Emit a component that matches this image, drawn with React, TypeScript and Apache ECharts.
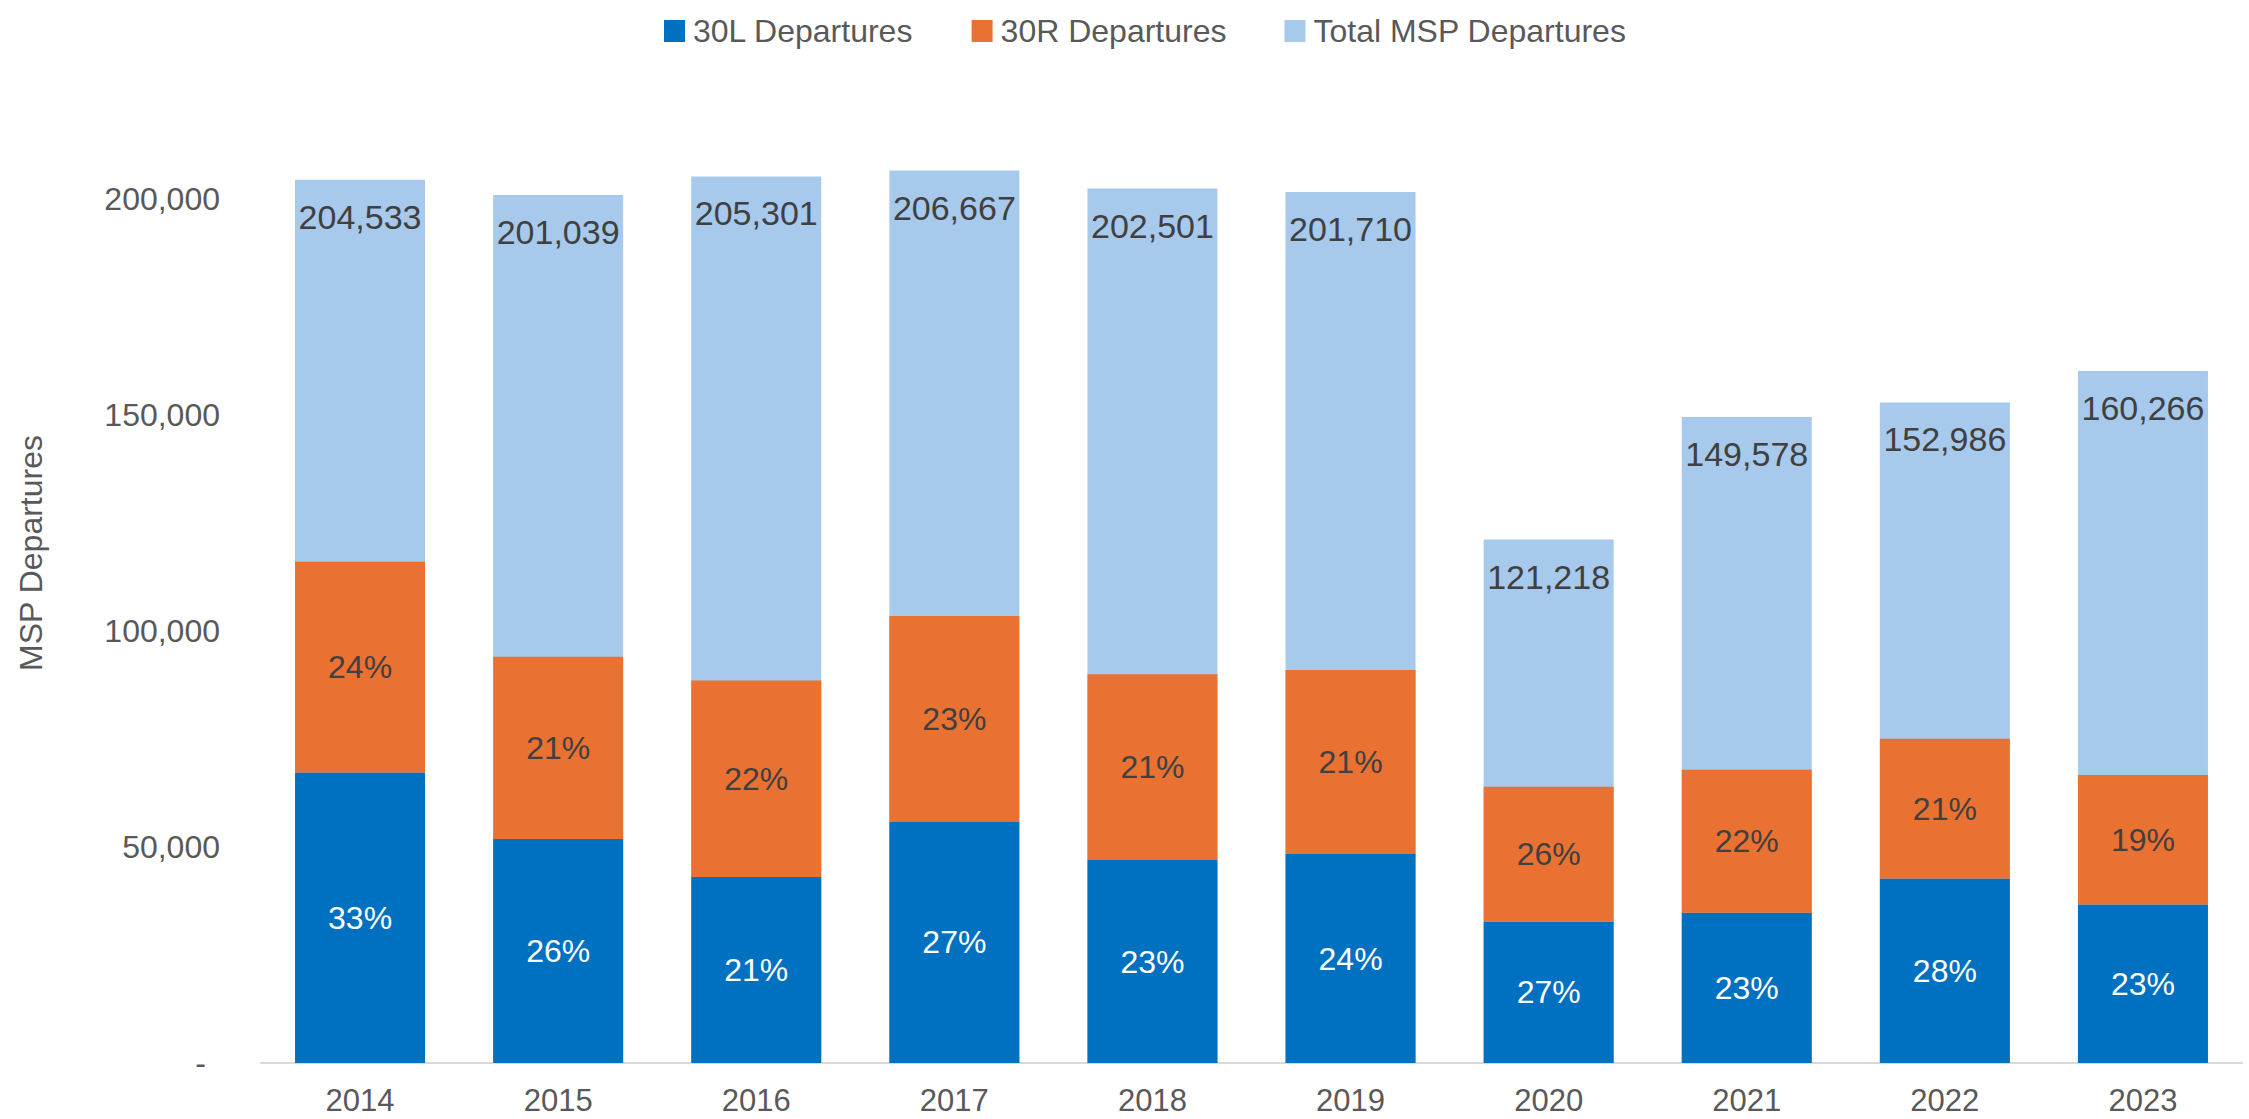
import React, { useEffect, useRef } from "react";
import * as echarts from "echarts";

const years = ["2014", "2015", "2016", "2017", "2018", "2019", "2020", "2021", "2022", "2023"];
const dep30L = [67300, 51900, 43100, 55900, 47000, 48400, 32700, 34800, 42700, 36700];
const dep30R = [48800, 42200, 45500, 47600, 43000, 42600, 31300, 33100, 32400, 30000];
const totalDep = [204533, 201039, 205301, 206667, 202501, 201710, 121218, 149578, 152986, 160266];
const pct30L = ["33%", "26%", "21%", "27%", "23%", "24%", "27%", "23%", "28%", "23%"];
const pct30R = ["24%", "21%", "22%", "23%", "21%", "21%", "26%", "22%", "21%", "19%"];
const yTicks = [0, 50000, 100000, 150000, 200000];

const FONT = "'Liberation Sans', Arial, sans-serif";
const GREY = "#595959";
const DARK = "#404040";

export default function App() {
  const ref = useRef<HTMLDivElement>(null);
  useEffect(() => {
    if (!ref.current) return;
    const chart = echarts.init(ref.current, null, { renderer: "svg" });
    const fmt = (v: number) => v.toLocaleString("en-US");
    chart.setOption({
      animation: false,
      backgroundColor: "#ffffff",
      textStyle: { fontFamily: FONT },
      legend: {
        data: ["30L Departures", "30R Departures", "Total MSP Departures"],
        left: 659,
        top: 10,
        itemWidth: 21,
        itemHeight: 22,
        itemGap: 58,
        icon: "rect",
        textStyle: { fontFamily: FONT, fontSize: 32, color: GREY, padding: [0, 0, 0, 3] },
      },
      graphic: [
        {
          type: "text",
          x: 31,
          y: 553,
          rotation: Math.PI / 2,
          style: {
            text: "MSP Departures",
            fontFamily: FONT,
            fontSize: 32,
            fill: GREY,
            textAlign: "center",
            textVerticalAlign: "middle",
          },
        },
      ],
      grid: { left: 261, right: 7, top: 113, bottom: 56, containLabel: false },
      xAxis: {
        type: "category",
        data: years,
        axisLine: { show: true, lineStyle: { color: "#d9d9d9", width: 2 } },
        axisTick: { show: false },
        axisLabel: { fontFamily: FONT, fontSize: 31, lineHeight: 31, color: GREY, margin: 22 },
      },
      yAxis: {
        type: "value",
        min: 0,
        max: 220000,
        interval: 50000,
        splitLine: { show: false },
        axisLine: { show: false },
        axisTick: { show: false },
        axisLabel: {
          fontFamily: FONT,
          fontSize: 32,
          color: GREY,
          margin: 41,
          formatter: (v: number) => {
            if (!yTicks.includes(v)) return "";
            if (v === 0) return "{dash|-}";
            return fmt(v);
          },
          rich: { dash: { fontFamily: FONT, fontSize: 32, color: GREY, padding: [0, 14, 0, 0] } },
        },
      },
      series: [
        {
          name: "Total MSP Departures",
          type: "bar",
          data: totalDep,
          barWidth: 130,
          barGap: "-100%",
          itemStyle: { color: "#A6C9EC" },
          label: {
            show: true,
            position: "insideTop",
            distance: 20,
            fontFamily: FONT,
            fontSize: 34,
            color: DARK,
            formatter: (p: any) => fmt(p.value),
          },
        },
        {
          name: "30L Departures",
          type: "bar",
          stack: "rw",
          data: dep30L,
          barWidth: 130,
          barGap: "-100%",
          itemStyle: { color: "#0070C0" },
          label: {
            show: true,
            position: "inside",
            fontFamily: FONT,
            fontSize: 32,
            color: "#ffffff",
            formatter: (p: any) => pct30L[p.dataIndex],
          },
        },
        {
          name: "30R Departures",
          type: "bar",
          stack: "rw",
          data: dep30R,
          barWidth: 130,
          barGap: "-100%",
          itemStyle: { color: "#E97132" },
          label: {
            show: true,
            position: "inside",
            fontFamily: FONT,
            fontSize: 32,
            color: DARK,
            formatter: (p: any) => pct30R[p.dataIndex],
          },
        },
      ],
    });
    return () => chart.dispose();
  }, []);
  return (
    <div
      ref={ref}
      style={{ position: "fixed", left: 0, top: 0, width: 2249, height: 1119, background: "#fff" }}
    />
  );
}
